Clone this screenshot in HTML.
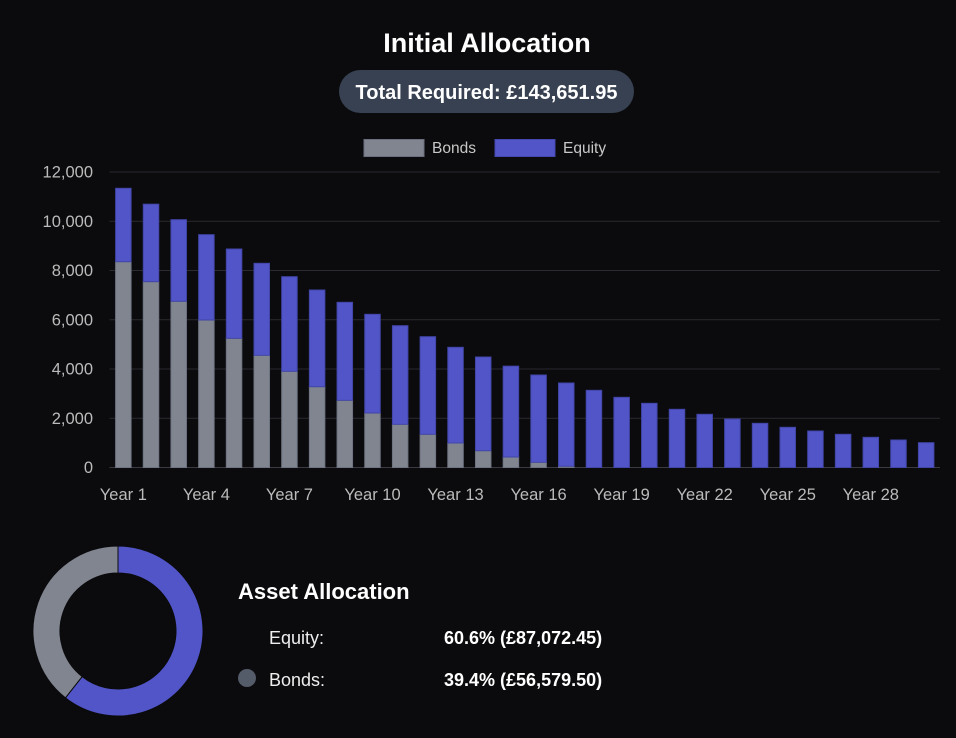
<!DOCTYPE html>
<html><head><meta charset="utf-8"><style>
html,body{margin:0;padding:0;background:#0b0b0d;width:956px;height:738px;overflow:hidden;font-family:"Liberation Sans",sans-serif}
svg{display:block}
</style></head><body>
<svg id="c" width="956" height="738" xmlns="http://www.w3.org/2000/svg">
<text x="487" y="52" text-anchor="middle" fill="#fff" font-size="27" font-weight="bold">Initial Allocation</text>
<rect x="339" y="70" width="295" height="43" rx="21.5" fill="#374151"/>
<text x="486.5" y="99" text-anchor="middle" fill="#fff" font-size="20" font-weight="bold">Total Required: £143,651.95</text>
<g>
<rect x="364" y="139.5" width="60" height="17" fill="#808590" stroke="#6b7080"/>
<text x="432" y="153" fill="#c8c8c8" font-size="15.5">Bonds</text>
<rect x="495" y="139.5" width="60" height="17" fill="#5155c8" stroke="#4448b0"/>
<text x="563" y="153" fill="#c8c8c8" font-size="15.5">Equity</text>
</g>
<g id="grid"></g><g id="bars"></g><g id="xl"></g>
<g id="donut"></g>
<text x="238" y="599" fill="#fff" font-size="22" font-weight="bold">Asset Allocation</text>
<text x="269" y="644" fill="#eee" font-size="18">Equity:</text>
<text x="444" y="644" fill="#fff" font-size="18" font-weight="bold">60.6% (£87,072.45)</text>
<circle cx="247" cy="678" r="9" fill="#545b69"/>
<text x="269" y="686" fill="#eee" font-size="18">Bonds:</text>
<text x="444" y="686" fill="#fff" font-size="18" font-weight="bold">39.4% (£56,579.50)</text>
</svg>
<script>
const years=[1,2,3,4,5,6,7,8,9,10,11,12,13,14,15,16,17,18,19,20,21,22,23,24,25,26,27,28,29,30];
const totals=[11338,10693,10064,9455,8873,8292,7749,7208,6708,6221,5759,5312,4881,4487,4115,3756,3431,3134,2850,2606,2363,2160,1970,1794,1632,1482,1348,1226,1117,1007];
const bonds=[8357,7546,6749,5990,5246,4556,3906,3281,2728,2213,1754,1348,995,682,426,211,50,0,0,0,0,0,0,0,0,0,0,0,0,0];
const yTicks=[0,2000,4000,6000,8000,10000,12000];
const donutVals=[60.6,39.4];
const NS="http://www.w3.org/2000/svg";
const X0=109.5,X1=940,Y0=467.5,Y1=172,YMAX=12000;
const cw=(X1-X0)/years.length;
const y=v=>Y0-(v/YMAX)*(Y0-Y1);
const xc=i=>X0+cw*(i+0.5);
function mk(t,a,p){const e=document.createElementNS(NS,t);for(const k in a)e.setAttribute(k,a[k]);p.appendChild(e);return e;}
const grid=document.getElementById('grid'),bars=document.getElementById('bars'),xl=document.getElementById('xl');
yTicks.forEach(t=>{
 const l=mk('line',{x1:X0,x2:X1,y1:y(t),y2:y(t),stroke:t==0?'#3a3a40':'#2a2a30','stroke-width':1},grid);
 
 
 const tx=mk('text',{x:93,y:y(t)+5.5,'text-anchor':'end',fill:'#bbb','font-size':16.5},grid);
 tx.textContent=t.toLocaleString('en-US');
 
 
});
const bw=15.5;
years.forEach((yr,i)=>{
 const b=bonds[i];
 if(b>0){const r=mk('rect',{x:xc(i)-bw/2,y:y(b),width:bw,height:Y0-y(b),fill:'#808590',stroke:'#6f7482','stroke-width':1},bars);
 
 }
 const r2=mk('rect',{x:xc(i)-bw/2,y:y(totals[i]),width:bw,height:y(b)-y(totals[i]),fill:'#5155c8',stroke:'#4246a8','stroke-width':1},bars);
 
 
 if(i%3==0){const t=mk('text',{x:xc(i),y:500,'text-anchor':'middle',fill:'#bbb','font-size':16.5},xl);
 t.textContent='Year '+yr;
 
 }
});
const dg=document.getElementById('donut');
const cx=118,cy=631,R=85,r=58,cols=['#5155c8','#808590'];
const tot=donutVals.reduce((a,b)=>a+b,0);let ang=-Math.PI/2;
donutVals.forEach((v,k)=>{
 const a2=ang+v/tot*2*Math.PI,lg=(a2-ang)>Math.PI?1:0;
 const p=(rr,a)=>[cx+rr*Math.cos(a),cy+rr*Math.sin(a)];
 const [a,b]=p(R,ang),[c,d]=p(R,a2),[e,f]=p(r,a2),[g,h]=p(r,ang);
 const s=mk('path',{d:`M${a} ${b}A${R} ${R} 0 ${lg} 1 ${c} ${d}L${e} ${f}A${r} ${r} 0 ${lg} 0 ${g} ${h}Z`,fill:cols[k],stroke:'#0b0b0d','stroke-width':1},dg);
 
 
 ang=a2;
});
</script>
</body></html>
